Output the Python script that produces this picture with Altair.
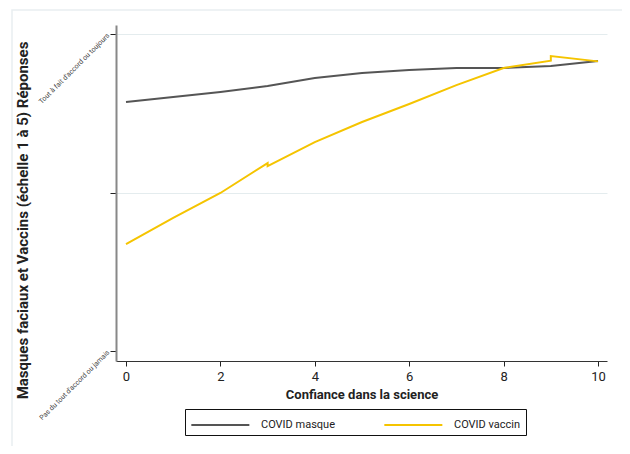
import altair as alt
import pandas as pd

# Data
x_masque = [0, 1, 2, 3, 4, 5, 6, 7, 8, 9, 10]
y_masque = [4.142, 4.205, 4.27, 4.344, 4.445, 4.508, 4.546, 4.571, 4.571, 4.596, 4.66]
x_vaccin = [0, 1, 2, 3, 3, 4, 5, 6, 7, 8, 9, 9, 10]
y_vaccin = [2.35, 2.68, 2.994, 3.372, 3.334, 3.637, 3.89, 4.117, 4.356, 4.571, 4.663, 4.722, 4.655]
series = ["COVID masque", "COVID vaccin"]
colors = ["#555555", "#f5c400"]
x_ticks = [0, 2, 4, 6, 8, 10]
y_ticks = [1, 3, 5]
label_top = "Tout à fait d'accord ou toujours"
label_bottom = "Pas du tout d'accord ou jamais"

rows = []
for i, (x, y) in enumerate(zip(x_masque, y_masque)):
    rows.append({"x": x, "y": y, "serie": series[0], "seq": i})
for i, (x, y) in enumerate(zip(x_vaccin, y_vaccin)):
    rows.append({"x": x, "y": y, "serie": series[1], "seq": i})
df = pd.DataFrame(rows)

FONT = "Roboto"
xscale = alt.Scale(domain=[-0.212, 10.19], nice=False, zero=False)
yscale = alt.Scale(domain=[0.874, 5.114], nice=False, zero=False)

# faint outer frame of the graph region (decoration)
frame = alt.Chart(pd.DataFrame({"f": [0]})).mark_rect(
    fill="transparent", stroke="#e9eef1", strokeWidth=1.5, clip=False
).encode(
    x=alt.value(-104), x2=alt.value(513), y=alt.value(-15), y2=alt.value(424)
)

lines = alt.Chart(df).mark_line(strokeWidth=2).encode(
    x=alt.X("x:Q", scale=xscale,
            axis=alt.Axis(values=x_ticks, title="Confiance dans la science",
                          grid=False, domainColor="#333333", domainWidth=1,
                          tickColor="#222222", tickSize=5, labelFontSize=13,
                          labelColor="#222222", labelPadding=4,
                          titleFontSize=13, titleFontWeight="bold",
                          titleColor="#222222", titlePadding=5, labelFont=FONT,
                          titleFont=FONT)),
    y=alt.Y("y:Q", scale=yscale,
            axis=alt.Axis(values=y_ticks,
                          labelExpr=f"datum.value == 5 ? \"{label_top}\" : (datum.value == 1 ? \"{label_bottom}\" : '')",
                          title="Masques faciaux et  Vaccins (échelle 1 à 5) Réponses",
                          grid=True,
                          gridColor=alt.condition("datum.value == 1", alt.value("transparent"), alt.value("#e4ecee")),
                          domainColor="#888888", domainWidth=2,
                          tickColor="#222222", tickSize=6, labelAngle=315,
                          labelAlign="right", labelBaseline="middle",
                          labelFontSize=7, labelColor="#444444", labelPadding=2,
                          titleFontSize=15, titleFontWeight="bold",
                          titleColor="#222222", titleX=-94, titleY=195,
                          titleAngle=270, titleAlign="center", titleBaseline="middle",
                          labelFont=FONT, titleFont=FONT, labelLimit=200)),
    color=alt.Color("serie:N", scale=alt.Scale(domain=series, range=colors),
                    legend=alt.Legend(title=None, orient="none", legendX=69, legendY=384,
                                      direction="horizontal", strokeColor="#111111",
                                      padding=5, symbolType="M-1,0H5", symbolSize=374,
                                      symbolStrokeWidth=2, symbolFillColor="transparent",
                                      labelFontSize=11,
                                      labelColor="#222222", labelOffset=49,
                                      columnPadding=44, labelFont=FONT,
                                      gridAlign="all")),
    order="seq:Q",
)

chart = alt.layer(frame, lines).properties(
    width=491, height=336,
    autosize=alt.AutoSizeParams(type="none"),
    padding={"left": 108, "top": 17, "right": 15, "bottom": 85},
).configure(background="white").configure_view(stroke=None)

chart.save("out.html", embed_options={"renderer": "svg", "actions": False})
